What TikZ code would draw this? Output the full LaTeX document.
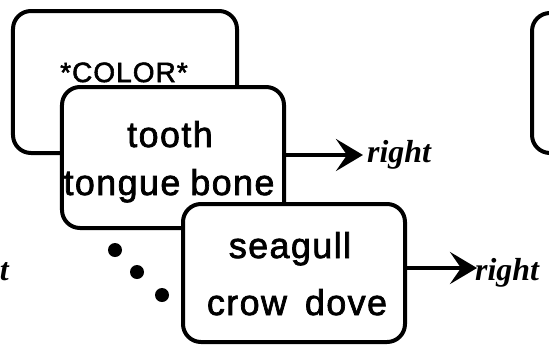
\documentclass[tikz,border=0pt]{standalone}
\usepackage{fontspec}
\setmainfont{Liberation Sans}
\newfontfamily\boxfont[LetterSpace=4,FakeBold=2]{Liberation Sans}
\newfontfamily\lblfont{Liberation Serif}
\usetikzlibrary{arrows.meta}
\begin{document}
\begin{tikzpicture}[x=1bp,y=-1bp,
  card/.style={draw=black, line width=4bp, rounded corners=18bp, fill=white, inner sep=0pt},
  word/.style={font=\boxfont\fontsize{36}{36}\selectfont, anchor=base, inner sep=0pt},
  smallword/.style={font=\boxfont\fontsize{28}{28}\selectfont, anchor=base, inner sep=0pt},
  lbl/.style={font=\lblfont\bfseries\itshape\fontsize{32}{32}\selectfont, inner sep=0pt},
  arr/.style={line width=4bp, -{Stealth[length=27bp,width=32bp,inset=11bp]}},
  dot/.style={circle, fill=black, inner sep=0pt, minimum size=14bp}]
\useasboundingbox (0,0) rectangle (549,347);
\clip (0,0) rectangle (549,347);
% partial box at the right edge
\node[card, minimum width=220bp, minimum height=140bp] (c4) at (642,83) {};
% fragment of a label at the left edge
\node[lbl, anchor=base east] (r0) at (9,280) {right};
% boxes
\node[card, minimum width=224bp, minimum height=142bp] (c1) at (125,82) {};
\node[smallword] (t1) at (124,82) {*COLOR*};
\node[card, minimum width=222bp, minimum height=141bp] (c2) at (173,157.5) {};
\node[word] (t2a) at (170,147) {tooth};
\node[word] (t2b) at (169,195) {tongue\hspace{10bp}bone};
\node[card, minimum width=222bp, minimum height=138bp] (c3) at (294,273) {};
\node[word] (t3a) at (290,258) {seagull};
\node[word] (t3b) at (297,315) {crow\hspace{18bp}dove};
% dots
\node[dot] (d1) at (115,250) {};
\node[dot] (d2) at (137,272) {};
\node[dot] (d3) at (162,295) {};
% arrows and labels
\coordinate (a1) at (363,155);
\draw[arr] (c2.east |- a1) -- (a1);
\node[lbl, anchor=base west] (r1) at (367,162) {right};
\coordinate (a2) at (477,268);
\draw[arr] (c3.east |- a2) -- (a2);
\node[lbl, anchor=base west] (r2) at (475,280) {right};
\end{tikzpicture}
\end{document}
